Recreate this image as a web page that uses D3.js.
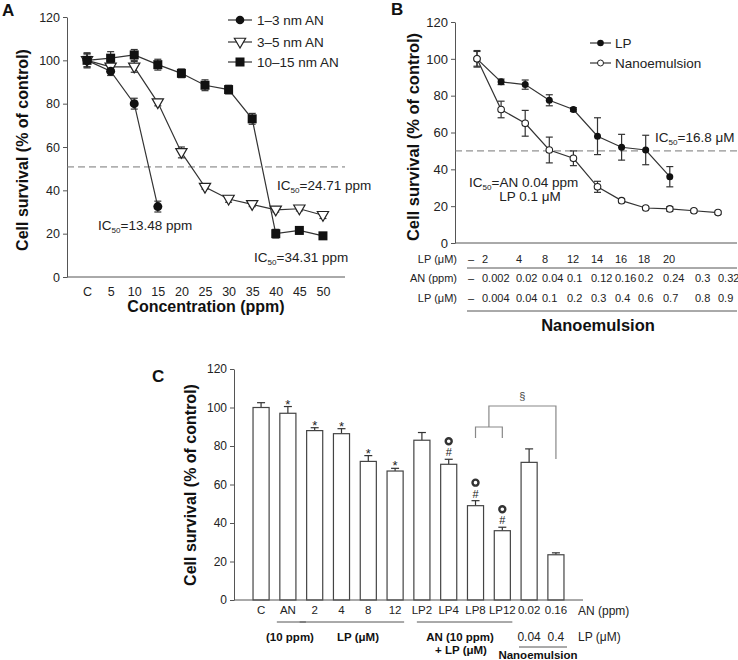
<!DOCTYPE html>
<html><head><meta charset="utf-8">
<script src="https://cdn.jsdelivr.net/npm/d3@7"></script>
<style>
body{margin:0;background:#fff;}
svg{font-family:Arial,"Liberation Sans",Helvetica,sans-serif;}
</style></head>
<body><svg id="c" width="738" height="660"></svg>
<script>
// ---------- DATA ----------
// Panel A
const concCats = ["C","5","10","15","20","25","30","35","40","45","50"];
const a13 = [100, 95, 80, 32.5];
const a13Err = [3, 2, 2.5, 2.5];
const a35 = [100, 97, 97, 80.5, 57.5, 41.5, 36, 33.5, 31, 31.5, 28.5];
const a35Err = [3, 2, 2.5, 1.5, 2.5, 1, 1.5, 1, 1, 1, 1.5];
const a1015 = [100, 101, 102.5, 98, 94, 88.5, 86.5, 73, 20, 21.5, 19];
const a1015Err = [3.5, 3, 2.5, 2.5, 2, 2.5, 2, 2.5, 2, 1.5, 1.5];
const aLegend = ["1–3 nm AN","3–5 nm AN","10–15 nm AN"];
const yTicks = [0,20,40,60,80,100,120];

// Panel B
const bLP = [100, 87.5, 86, 77.5, 72.5, 58, 52, 50.5, 36];
const bLPErr = [4, 1.5, 2.5, 3, 1, 10, 7, 8, 5.5];
const bNano = [100, 72.5, 65, 50.5, 46, 30.5, 23, 19, 18.5, 17.5, 16.5];
const bNanoErr = [4.5, 4.5, 7, 7, 4, 3, 1, 0.8, 1.2, 0.8, 0.8];
const bRowLP = ["–","2","4","8","12","14","16","18","20"];
const bRowAN = ["–","0.002","0.02","0.04","0.1","0.12","0.16","0.2","0.24","0.3","0.32"];
const bRowLP2 = ["–","0.004","0.04","0.1","0.2","0.3","0.4","0.6","0.7","0.8","0.9"];

// Panel C
const cCats = ["C","AN","2","4","8","12","LP2","LP4","LP8","LP12","0.02","0.16"];
const cVals = [100, 97, 88, 86.4, 72, 67, 83, 70.5, 49, 36, 71.5, 23.5];
const cErr = [2.5, 3.5, 1.5, 2.6, 3, 1.4, 4, 2.6, 2.6, 1.8, 7, 1];
const cStar = ["AN","2","4","8","12"];
const cHashRing = ["LP4","LP8","LP12"];

// ---------- DRAW ----------
const svg = d3.select("#c");
svg.append("rect").attr("width",738).attr("height",660).attr("fill","#fff");
const axisCol = "#555", lineCol = "#333";

function styleAxis(g, fs){
  g.selectAll("path,line").attr("stroke",axisCol).attr("stroke-width",1);
  g.selectAll("text").attr("font-size",fs).attr("fill","#222").attr("font-family","Arial, 'Liberation Sans', sans-serif");
}
function ic50(g, x, y, num, fs, anchor){
  const t = g.append("text").attr("x",x).attr("y",y).attr("font-size",fs).attr("fill","#222").attr("text-anchor",anchor||"start");
  t.append("tspan").text("IC");
  t.append("tspan").attr("dy",3).attr("font-size",fs*0.6).text("50");
  t.append("tspan").attr("dy",-3).text("="+num);
}
function errBars(g, xs, ys, es, ysc, cap){
  xs.forEach((x,i)=>{
    const y1 = ysc(ys[i]+es[i]), y2 = ysc(ys[i]-es[i]);
    g.append("line").attr("x1",x).attr("x2",x).attr("y1",y1).attr("y2",y2).attr("stroke",lineCol).attr("stroke-width",1.2);
    g.append("line").attr("x1",x-cap).attr("x2",x+cap).attr("y1",y1).attr("y2",y1).attr("stroke",lineCol).attr("stroke-width",1.2);
    g.append("line").attr("x1",x-cap).attr("x2",x+cap).attr("y1",y2).attr("y2",y2).attr("stroke",lineCol).attr("stroke-width",1.2);
  });
}

// ===== Panel A =====
const gA = svg.append("g");
const yA = d3.scaleLinear().domain([0,120]).range([277,17]);
const xA = d3.scalePoint().domain(concCats).range([67,343]).padding(0.85);
const axAy = gA.append("g").attr("transform","translate(67,0)").call(d3.axisLeft(yA).tickValues(yTicks).tickSize(4).tickSizeOuter(0));
styleAxis(axAy, 12.5);
gA.append("line").attr("x1",67).attr("x2",345).attr("y1",277).attr("y2",277).attr("stroke",axisCol);
const axAx = gA.append("g").attr("transform","translate(0,277)").call(d3.axisBottom(xA).tickSize(0).tickPadding(10));
axAx.select(".domain").remove();
styleAxis(axAx, 12.5);
gA.append("line").attr("x1",67).attr("x2",345).attr("y1",yA(50.8)).attr("y2",yA(50.8)).attr("stroke","#777").attr("stroke-dasharray","7,4");
const line = d3.line();
function seriesA(vals, errs){
  const pts = vals.map((v,i)=>[xA(concCats[i]), yA(v)]);
  errBars(gA, pts.map(p=>p[0]), vals, errs, yA, 3.5);
  gA.append("path").attr("d",line(pts)).attr("fill","none").attr("stroke",lineCol).attr("stroke-width",1.2);
  return pts;
}
const pA2 = seriesA(a35, a35Err);
const pA3 = seriesA(a1015, a1015Err);
const pA1 = seriesA(a13, a13Err);
const tri = d3.symbol().type(d3.symbolTriangle).size(55);
pA2.forEach(p=>gA.append("path").attr("d",tri()).attr("transform",`translate(${p[0]},${p[1]-0.5}) rotate(180)`).attr("fill","#fff").attr("stroke","#222").attr("stroke-width",1.2));
pA3.forEach(p=>gA.append("rect").attr("x",p[0]-4.5).attr("y",p[1]-4.5).attr("width",9).attr("height",9).attr("fill","#111"));
pA1.forEach(p=>gA.append("circle").attr("cx",p[0]).attr("cy",p[1]).attr("r",4.5).attr("fill","#111"));
const legA = [20,42,62];
aLegend.forEach((t,i)=>{
  const y = legA[i];
  gA.append("line").attr("x1",228).attr("x2",252).attr("y1",y).attr("y2",y).attr("stroke",lineCol).attr("stroke-width",1.2);
  if(i===0) gA.append("circle").attr("cx",240).attr("cy",y).attr("r",4.3).attr("fill","#111");
  if(i===1) gA.append("path").attr("d",tri()).attr("transform",`translate(240,${y-0.5}) rotate(180)`).attr("fill","#fff").attr("stroke","#222").attr("stroke-width",1.2);
  if(i===2) gA.append("rect").attr("x",235.5).attr("y",y-4.5).attr("width",9).attr("height",9).attr("fill","#111");
  gA.append("text").attr("x",257).attr("y",y+5).attr("font-size",13.5).attr("fill","#222").text(t);
});
ic50(gA, 277, 190, "24.71 ppm", 13.5);
ic50(gA, 98, 230, "13.48 ppm", 13.5);
ic50(gA, 254, 262, "34.31 ppm", 13.5);
gA.append("text").attr("x",206).attr("y",312).attr("text-anchor","middle").attr("font-size",16).attr("font-weight","bold").attr("fill","#111").text("Concentration (ppm)");
gA.append("text").attr("transform","translate(28,150) rotate(-90)").attr("text-anchor","middle").attr("font-size",16).attr("font-weight","bold").attr("fill","#111").text("Cell survival (% of control)");
gA.append("text").attr("x",2).attr("y",16).attr("font-size",17).attr("font-weight","bold").attr("fill","#111").text("A");

// ===== Panel B =====
const gB = svg.append("g");
const yB = d3.scaleLinear().domain([0,120]).range([243,22]);
const xB = d3.scaleLinear().domain([0,10]).range([477,718]);
const axBy = gB.append("g").attr("transform","translate(455,0)").call(d3.axisLeft(yB).tickValues(yTicks).tickSize(4).tickSizeOuter(0));
styleAxis(axBy, 13);
gB.append("line").attr("x1",455).attr("x2",737).attr("y1",243).attr("y2",243).attr("stroke",axisCol);
gB.append("line").attr("x1",455).attr("x2",737).attr("y1",yB(50)).attr("y2",yB(50)).attr("stroke","#777").attr("stroke-dasharray","7,4");
const pBN = bNano.map((v,i)=>[xB(i), yB(v)]);
const pBL = bLP.map((v,i)=>[xB(i), yB(v)]);
errBars(gB, pBL.map(p=>p[0]), bLP, bLPErr, yB, 3.5);
errBars(gB, pBN.map(p=>p[0]), bNano, bNanoErr, yB, 3.5);
gB.append("path").attr("d",line(pBL)).attr("fill","none").attr("stroke",lineCol).attr("stroke-width",1.2);
gB.append("path").attr("d",line(pBN)).attr("fill","none").attr("stroke",lineCol).attr("stroke-width",1.2);
pBL.forEach(p=>gB.append("circle").attr("cx",p[0]).attr("cy",p[1]).attr("r",3.5).attr("fill","#111"));
pBN.forEach(p=>gB.append("circle").attr("cx",p[0]).attr("cy",p[1]).attr("r",3.3).attr("fill","#fff").attr("stroke","#222").attr("stroke-width",1.1));
gB.append("line").attr("x1",590).attr("x2",611).attr("y1",43).attr("y2",43).attr("stroke",lineCol).attr("stroke-width",1.2);
gB.append("circle").attr("cx",600.5).attr("cy",43).attr("r",3.3).attr("fill","#111");
gB.append("text").attr("x",615).attr("y",48).attr("font-size",13.5).attr("fill","#222").text("LP");
gB.append("line").attr("x1",590).attr("x2",611).attr("y1",63).attr("y2",63).attr("stroke",lineCol).attr("stroke-width",1.2);
gB.append("circle").attr("cx",600.5).attr("cy",63).attr("r",3).attr("fill","#fff").attr("stroke","#222");
gB.append("text").attr("x",615).attr("y",68).attr("font-size",13.5).attr("fill","#222").text("Nanoemulsion");
ic50(gB, 655, 142, "16.8 μM", 13.5);
ic50(gB, 469, 187, "AN 0.04 ppm", 13.5);
gB.append("text").attr("x",530).attr("y",201).attr("text-anchor","middle").attr("font-size",13.5).attr("fill","#222").text("LP 0.1 μM");
// table: column left edges (layout only)
const tableColX = [468, 482, 516, 542, 567, 591, 615, 638, 663, 695, 718];
const rowsB = [["LP (μM)", bRowLP, 263], ["AN (ppm)", bRowAN, 282], ["LP (μM)", bRowLP2, 302]];
rowsB.forEach(r=>{
  gB.append("text").attr("x",457).attr("y",r[2]).attr("text-anchor","end").attr("font-size",11).attr("fill","#222").text(r[0]);
  r[1].forEach((t,i)=>gB.append("text").attr("x",tableColX[i]).attr("y",r[2]).attr("font-size",11).attr("fill","#222").text(t));
});
gB.append("line").attr("x1",467).attr("x2",737).attr("y1",268).attr("y2",268).attr("stroke",axisCol);
gB.append("line").attr("x1",467).attr("x2",737).attr("y1",311).attr("y2",311).attr("stroke",axisCol);
gB.append("text").attr("x",598).attr("y",331).attr("text-anchor","middle").attr("font-size",16.5).attr("font-weight","bold").attr("fill","#111").text("Nanoemulsion");
gB.append("text").attr("transform","translate(419,137) rotate(-90)").attr("text-anchor","middle").attr("font-size",16.5).attr("font-weight","bold").attr("fill","#111").text("Cell survival (% of control)");
gB.append("text").attr("x",391).attr("y",15).attr("font-size",17).attr("font-weight","bold").attr("fill","#111").text("B");

// ===== Panel C =====
const gC = svg.append("g");
const yC = d3.scaleLinear().domain([0,120]).range([600,369]);
const xC = d3.scaleBand().domain(cCats).range([234,583]).paddingInner(0.4).paddingOuter(0.71);
const axCy = gC.append("g").attr("transform","translate(234,0)").call(d3.axisLeft(yC).tickValues(yTicks).tickSize(4).tickSizeOuter(0));
styleAxis(axCy, 12);
const bw = xC.bandwidth();
cCats.forEach((c,i)=>{
  const cx = xC(c)+bw/2, top = yC(cVals[i]+cErr[i]);
  gC.append("line").attr("x1",cx).attr("x2",cx).attr("y1",top).attr("y2",yC(cVals[i])).attr("stroke",lineCol).attr("stroke-width",1.2);
  gC.append("line").attr("x1",cx-4).attr("x2",cx+4).attr("y1",top).attr("y2",top).attr("stroke",lineCol).attr("stroke-width",1.2);
});
gC.selectAll("rect.bar").data(cCats).join("rect").attr("class","bar")
  .attr("x",d=>xC(d)).attr("width",bw)
  .attr("y",(d,i)=>yC(cVals[i])).attr("height",(d,i)=>yC(0)-yC(cVals[i]))
  .attr("fill","#fff").attr("stroke","#444").attr("stroke-width",1.2);
gC.append("line").attr("x1",234).attr("x2",583).attr("y1",600).attr("y2",600).attr("stroke",axisCol);
const axCx = gC.append("g").attr("transform","translate(0,600)").call(d3.axisBottom(xC).tickSize(0).tickPadding(6));
axCx.select(".domain").remove();
styleAxis(axCx, 11.5);
gC.append("text").attr("x",578).attr("y",615).attr("font-size",12).attr("fill","#222").text("AN (ppm)");
cStar.forEach(c=>{
  const i = cCats.indexOf(c);
  gC.append("text").attr("x",xC(c)+bw/2).attr("y",yC(cVals[i]+cErr[i])+2).attr("text-anchor","middle").attr("font-size",13).attr("fill","#222").text("*");
});
cHashRing.forEach(c=>{
  const i = cCats.indexOf(c), cx = xC(c)+bw/2, top = yC(cVals[i]+cErr[i]);
  gC.append("text").attr("x",cx).attr("y",top-3).attr("text-anchor","middle").attr("font-size",11).attr("fill","#222").text("#");
  gC.append("circle").attr("cx",cx).attr("cy",top-18).attr("r",3).attr("fill","none").attr("stroke","#333").attr("stroke-width",2.4);
});
const bcol = "#888";
const xL8 = xC("LP8")+bw/2, xL12 = xC("LP12")+bw/2, xN16 = xC("0.16")+bw/2, xMid = (xL8+xL12)/2;
gC.append("path").attr("d",`M${xL8},438V427H${xL12}V438`).attr("fill","none").attr("stroke",bcol).attr("stroke-width",1.2);
gC.append("path").attr("d",`M${xMid},427V406H${xN16}V459`).attr("fill","none").attr("stroke",bcol).attr("stroke-width",1.2);
gC.append("text").attr("x",(xMid+xN16)/2).attr("y",400).attr("text-anchor","middle").attr("font-size",11).attr("fill","#444").text("§");
const ul = (x1,x2,y)=>gC.append("line").attr("x1",x1).attr("x2",x2).attr("y1",y).attr("y2",y).attr("stroke",axisCol);
ul(xC("AN")-3, xC("AN")+bw+10, 622);
ul(xC("2")-7, xC("12")+bw+1, 622);
ul(xC("LP2")+3, xC("LP12")+bw+2, 622);
const bt = (x,y,t)=>gC.append("text").attr("x",x).attr("y",y).attr("text-anchor","middle").attr("font-size",11.5).attr("font-weight","bold").attr("fill","#111").text(t);
bt(290, 641, "(10 ppm)");
bt(358, 641, "LP (μM)");
bt(460, 641, "AN (10 ppm)");
bt(461, 654, "+ LP (μM)");
gC.append("text").attr("x",xC("0.02")+bw/2).attr("y",641).attr("text-anchor","middle").attr("font-size",12).attr("fill","#222").text("0.04");
gC.append("text").attr("x",xC("0.16")+bw/2).attr("y",641).attr("text-anchor","middle").attr("font-size",12).attr("fill","#222").text("0.4");
gC.append("text").attr("x",578).attr("y",641).attr("font-size",12).attr("fill","#222").text("LP (μM)");
ul(519, 567, 647);
bt(538, 659, "Nanoemulsion");
gC.append("text").attr("transform","translate(196,485) rotate(-90)").attr("text-anchor","middle").attr("font-size",16).attr("font-weight","bold").attr("fill","#111").text("Cell survival (% of control)");
gC.append("text").attr("x",152).attr("y",382).attr("font-size",17).attr("font-weight","bold").attr("fill","#111").text("C");
</script></body></html>
